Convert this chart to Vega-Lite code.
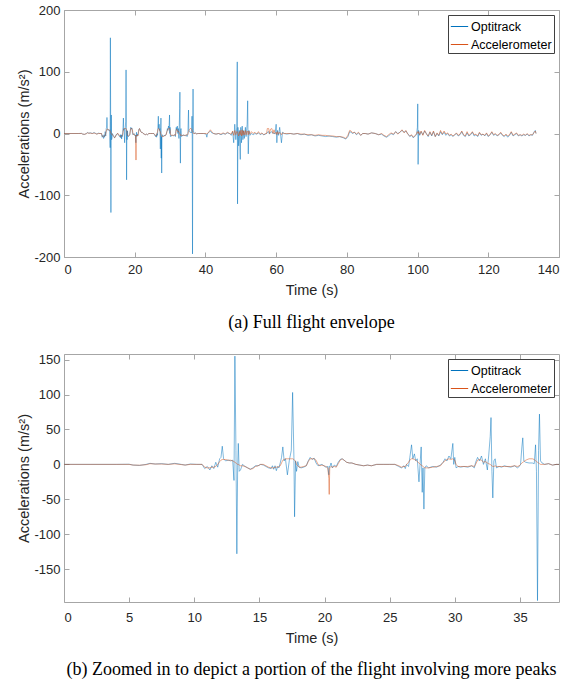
{
  "$schema": "https://vega.github.io/schema/vega-lite/v6.json",
  "padding": {"left": 16, "top": 4, "right": 5, "bottom": 5},
  "background": "white",
  "datasets": {
    "d": [
      {"t":0,"O":0,"A":0},{"t":2,"O":0,"A":0},{"t":4,"O":0,"A":0},{"t":5,"O":0.2,"A":0},{"t":5.3,"O":-1,"A":-1},{"t":5.8,"O":-1.5,"A":-1.2},{"t":6.3,"O":0,"A":-0.5},{"t":6.6,"O":1.5,"A":1},{"t":7,"O":0.5,"A":0.5},{"t":7.5,"O":1,"A":0.5},{"t":8,"O":0,"A":0},{"t":8.5,"O":1.5,"A":0.8},{"t":9,"O":0,"A":-0.3},{"t":9.3,"O":-1,"A":-1},{"t":9.7,"O":0.5,"A":0},{"t":10.2,"O":0,"A":0},{"t":10.6,"O":0,"A":0},{"t":10.8,"O":-6,"A":-4},{"t":11.0,"O":-3,"A":-5},{"t":11.2,"O":-8,"A":-5},{"t":11.35,"O":-2,"A":-4},{"t":11.5,"O":-6,"A":-4},{"t":11.65,"O":3,"A":-3},{"t":11.8,"O":-4,"A":0},{"t":11.95,"O":8,"A":4},{"t":12.05,"O":10,"A":6},{"t":12.15,"O":26,"A":7},{"t":12.25,"O":8,"A":7},{"t":12.4,"O":5,"A":7},{"t":12.6,"O":6,"A":6},{"t":12.8,"O":5,"A":6},{"t":12.95,"O":6,"A":5},{"t":13.05,"O":-23,"A":4},{"t":13.12,"O":155,"A":3},{"t":13.2,"O":20,"A":2},{"t":13.27,"O":-128,"A":1},{"t":13.33,"O":-5,"A":0},{"t":13.38,"O":30,"A":0},{"t":13.45,"O":-10,"A":-1},{"t":13.55,"O":-8,"A":-2},{"t":13.7,"O":0,"A":-2},{"t":13.9,"O":-3,"A":-3},{"t":14.1,"O":-5,"A":-5},{"t":14.3,"O":-7,"A":-7},{"t":14.5,"O":-5,"A":-6},{"t":14.7,"O":-2,"A":-3},{"t":14.9,"O":-2,"A":-2},{"t":15.1,"O":0,"A":0},{"t":15.3,"O":-1,"A":0},{"t":15.5,"O":-3,"A":-2},{"t":15.7,"O":-5,"A":-4},{"t":15.9,"O":-6,"A":-5},{"t":16.0,"O":-2,"A":-5},{"t":16.1,"O":-7,"A":-5},{"t":16.2,"O":-2,"A":-4},{"t":16.3,"O":-9,"A":-4},{"t":16.4,"O":-3,"A":-4},{"t":16.5,"O":-5,"A":-3},{"t":16.6,"O":2,"A":-2},{"t":16.7,"O":10,"A":2},{"t":16.8,"O":25,"A":6},{"t":16.9,"O":5,"A":7},{"t":17.0,"O":8,"A":8},{"t":17.15,"O":-15,"A":8},{"t":17.3,"O":6,"A":8},{"t":17.45,"O":20,"A":8},{"t":17.55,"O":103,"A":8},{"t":17.65,"O":10,"A":7},{"t":17.7,"O":-75,"A":6},{"t":17.78,"O":5,"A":4},{"t":17.85,"O":-10,"A":0},{"t":17.95,"O":4,"A":-2},{"t":18.05,"O":-4,"A":-4},{"t":18.2,"O":-5,"A":-4},{"t":18.4,"O":-4,"A":-3},{"t":18.6,"O":-2,"A":-2},{"t":18.75,"O":5,"A":4},{"t":18.9,"O":10,"A":8},{"t":19.05,"O":7,"A":8},{"t":19.2,"O":9,"A":8},{"t":19.35,"O":2,"A":6},{"t":19.5,"O":-2,"A":0},{"t":19.65,"O":-1,"A":-2},{"t":19.8,"O":0,"A":-1},{"t":19.95,"O":-2,"A":-2},{"t":20.1,"O":-4,"A":-3},{"t":20.25,"O":-3,"A":-5},{"t":20.33,"O":-15,"A":-20},{"t":20.36,"O":-3,"A":-43},{"t":20.4,"O":-4,"A":-5},{"t":20.5,"O":2,"A":-3},{"t":20.6,"O":-5,"A":-4},{"t":20.75,"O":-1,"A":-3},{"t":20.9,"O":-3,"A":-4},{"t":21.05,"O":3,"A":1},{"t":21.2,"O":7,"A":6},{"t":21.35,"O":8,"A":8},{"t":21.5,"O":6,"A":6},{"t":21.7,"O":3,"A":3},{"t":21.9,"O":2,"A":2},{"t":22.1,"O":2,"A":2},{"t":22.4,"O":0,"A":0},{"t":22.7,"O":-1,"A":-1},{"t":23.0,"O":-2,"A":-2},{"t":23.3,"O":-1,"A":-1},{"t":23.6,"O":-2,"A":-2},{"t":24.0,"O":0,"A":0},{"t":24.5,"O":0,"A":0},{"t":25.0,"O":0,"A":0},{"t":25.4,"O":0,"A":0},{"t":25.7,"O":-3,"A":-2},{"t":25.9,"O":-5,"A":-4},{"t":26.1,"O":-2,"A":-3},{"t":26.2,"O":-6,"A":-3},{"t":26.3,"O":0,"A":0},{"t":26.45,"O":-3,"A":3},{"t":26.55,"O":10,"A":6},{"t":26.68,"O":28,"A":8},{"t":26.78,"O":8,"A":8},{"t":26.9,"O":15,"A":7},{"t":27.0,"O":5,"A":6},{"t":27.12,"O":8,"A":4},{"t":27.25,"O":-25,"A":2},{"t":27.35,"O":5,"A":0},{"t":27.42,"O":25,"A":-1},{"t":27.5,"O":-40,"A":-2},{"t":27.56,"O":-5,"A":-3},{"t":27.63,"O":-64,"A":-4},{"t":27.7,"O":-5,"A":-5},{"t":27.8,"O":-2,"A":-5},{"t":28.0,"O":-5,"A":-5},{"t":28.3,"O":-3,"A":-4},{"t":28.6,"O":-4,"A":-3},{"t":28.9,"O":-1,"A":-2},{"t":29.1,"O":3,"A":3},{"t":29.25,"O":8,"A":5},{"t":29.4,"O":5,"A":7},{"t":29.55,"O":12,"A":8},{"t":29.7,"O":8,"A":7},{"t":29.85,"O":30,"A":8},{"t":29.92,"O":0,"A":7},{"t":30.0,"O":10,"A":6},{"t":30.1,"O":-5,"A":0},{"t":30.25,"O":-3,"A":-3},{"t":30.45,"O":-4,"A":-3},{"t":30.7,"O":-3,"A":-3},{"t":31.0,"O":-4,"A":-3},{"t":31.3,"O":-2,"A":-2},{"t":31.5,"O":-5,"A":-3},{"t":31.6,"O":3,"A":0},{"t":31.75,"O":10,"A":6},{"t":31.9,"O":5,"A":7},{"t":32.05,"O":12,"A":6},{"t":32.2,"O":0,"A":3},{"t":32.35,"O":8,"A":4},{"t":32.5,"O":-8,"A":2},{"t":32.6,"O":12,"A":1},{"t":32.72,"O":40,"A":0},{"t":32.78,"O":67,"A":-1},{"t":32.85,"O":-10,"A":-2},{"t":32.92,"O":-48,"A":-3},{"t":33.0,"O":5,"A":-3},{"t":33.1,"O":8,"A":-2},{"t":33.2,"O":-5,"A":-3},{"t":33.4,"O":-3,"A":-3},{"t":33.6,"O":-4,"A":-3},{"t":33.8,"O":-2,"A":-3},{"t":34.0,"O":-3,"A":-3},{"t":34.3,"O":-4,"A":-3},{"t":34.6,"O":-2,"A":-2},{"t":34.8,"O":-5,"A":-3},{"t":34.95,"O":-3,"A":-2},{"t":35.05,"O":0,"A":0},{"t":35.15,"O":25,"A":2},{"t":35.22,"O":38,"A":3},{"t":35.3,"O":5,"A":4},{"t":35.45,"O":3,"A":6},{"t":35.7,"O":2,"A":8},{"t":35.95,"O":2,"A":8},{"t":36.1,"O":1,"A":7},{"t":36.2,"O":28,"A":5},{"t":36.27,"O":-10,"A":4},{"t":36.35,"O":-195,"A":3},{"t":36.43,"O":20,"A":2},{"t":36.5,"O":72,"A":1},{"t":36.58,"O":5,"A":0},{"t":36.7,"O":2,"A":0},{"t":36.9,"O":0,"A":0},{"t":37.2,"O":1,"A":1},{"t":37.5,"O":-1,"A":-1},{"t":37.8,"O":0,"A":0},{"t":38.0,"O":0,"A":0},
      {"t":38.5,"O":0,"A":0},{"t":39.5,"O":0,"A":0},{"t":40.2,"O":-1,"A":0},{"t":40.4,"O":-6,"A":-1},{"t":40.6,"O":0,"A":0},{"t":41.0,"O":2,"A":3},{"t":41.4,"O":4,"A":6},{"t":41.8,"O":1,"A":3},{"t":42.3,"O":0,"A":0},{"t":43,"O":-1,"A":-1},{"t":43.7,"O":0,"A":0},{"t":44.4,"O":-2,"A":-1},{"t":45,"O":0,"A":1},{"t":45.6,"O":-1,"A":-1},{"t":46.2,"O":1,"A":2},{"t":46.8,"O":0,"A":0},{"t":47.3,"O":-3,"A":-1},{"t":47.7,"O":3,"A":4},{"t":48.0,"O":-15,"A":-3},{"t":48.3,"O":15,"A":5},{"t":48.6,"O":-10,"A":-2},{"t":48.85,"O":10,"A":3},{"t":49.0,"O":116,"A":3},{"t":49.08,"O":-114,"A":2},{"t":49.2,"O":10,"A":0},{"t":49.4,"O":-20,"A":-4},{"t":49.6,"O":5,"A":3},{"t":49.85,"O":-42,"A":-2},{"t":50.0,"O":10,"A":5},{"t":50.2,"O":-15,"A":-4},{"t":50.4,"O":12,"A":6},{"t":50.6,"O":-10,"A":-3},{"t":50.8,"O":5,"A":4},{"t":51.0,"O":-8,"A":-2},{"t":51.3,"O":10,"A":5},{"t":51.5,"O":-5,"A":-2},{"t":51.8,"O":15,"A":4},{"t":51.95,"O":53,"A":3},{"t":52.05,"O":-10,"A":0},{"t":52.12,"O":-33,"A":-2},{"t":52.3,"O":5,"A":4},{"t":52.6,"O":-3,"A":-1},{"t":53,"O":0,"A":3},{"t":53.5,"O":-2,"A":0},{"t":54,"O":0,"A":2},{"t":54.5,"O":-1,"A":-1},{"t":55,"O":1,"A":3},{"t":55.5,"O":-2,"A":-1},{"t":56,"O":0,"A":1},{"t":56.5,"O":-2,"A":-2},{"t":57.0,"O":-1,"A":0},{"t":57.3,"O":0,"A":0},{"t":57.5,"O":2,"A":8},{"t":57.9,"O":3,"A":8},{"t":58.1,"O":-1,"A":0},{"t":58.4,"O":2,"A":7},{"t":58.8,"O":3,"A":8},{"t":59.1,"O":0,"A":0},{"t":59.4,"O":1,"A":6},{"t":59.7,"O":-1,"A":0},{"t":60.0,"O":15,"A":2},{"t":60.2,"O":-15,"A":-2},{"t":60.4,"O":5,"A":3},{"t":60.7,"O":-3,"A":-1},{"t":61.0,"O":10,"A":2},{"t":61.3,"O":-5,"A":0},{"t":61.5,"O":-15,"A":-2},{"t":61.8,"O":2,"A":1},{"t":62.3,"O":0,"A":0},{"t":63,"O":-1,"A":0},{"t":64,"O":0,"A":0},{"t":65,"O":-1,"A":-1},{"t":66,"O":0,"A":0},{"t":67,"O":-2,"A":-1},{"t":68,"O":-1,"A":-1},{"t":69,"O":-3,"A":-2},{"t":70,"O":-2,"A":-2},{"t":71,"O":-4,"A":-3},{"t":72,"O":-3,"A":-2},{"t":73,"O":-4,"A":-3},{"t":74,"O":-5,"A":-3},{"t":75,"O":-4,"A":-4},{"t":76,"O":-5,"A":-4},{"t":77,"O":-6,"A":-5},{"t":78,"O":-5,"A":-5},{"t":79,"O":-7,"A":-6},{"t":79.7,"O":-9,"A":-8},{"t":80.3,"O":-5,"A":-3},{"t":80.8,"O":3,"A":5},{"t":81.2,"O":2,"A":4},{"t":81.6,"O":0,"A":1},{"t":82.2,"O":2,"A":2},{"t":82.7,"O":-2,"A":-1},{"t":83.3,"O":1,"A":2},{"t":83.9,"O":-3,"A":-3},{"t":84.5,"O":0,"A":0},{"t":85.2,"O":0,"A":0},{"t":86,"O":-1,"A":-1},{"t":87,"O":1,"A":1},{"t":88,"O":0,"A":0},{"t":89,"O":-2,"A":-2},{"t":89.8,"O":-1,"A":0},{"t":90.5,"O":-4,"A":-3},{"t":91.2,"O":-6,"A":-5},{"t":91.8,"O":-4,"A":-2},{"t":92.5,"O":0,"A":1},{"t":93.2,"O":-2,"A":-1},{"t":93.8,"O":3,"A":3},{"t":94.4,"O":0,"A":-1},{"t":95.0,"O":2,"A":2},{"t":95.6,"O":5,"A":6},{"t":96.2,"O":2,"A":1},{"t":96.7,"O":4,"A":5},{"t":97.2,"O":0,"A":-1},{"t":97.8,"O":-5,"A":-4},{"t":98.3,"O":-3,"A":-2},{"t":98.8,"O":-7,"A":-6},{"t":99.3,"O":-4,"A":-3},{"t":99.7,"O":-2,"A":0},{"t":99.95,"O":10,"A":3},{"t":100.05,"O":48,"A":2},{"t":100.15,"O":-50,"A":0},{"t":100.3,"O":5,"A":3},{"t":100.6,"O":-3,"A":-2},{"t":101.0,"O":3,"A":4},{"t":101.5,"O":-2,"A":-3},{"t":102.0,"O":4,"A":5},{"t":102.5,"O":0,"A":-1},{"t":103.0,"O":-5,"A":-4},{"t":103.5,"O":2,"A":3},{"t":104.0,"O":-4,"A":-3},{"t":104.5,"O":3,"A":4},{"t":105.0,"O":-5,"A":-5},{"t":105.5,"O":0,"A":1},{"t":106.0,"O":-4,"A":-3},{"t":106.5,"O":3,"A":5},{"t":107.0,"O":-2,"A":-1},{"t":107.5,"O":2,"A":4},{"t":108.0,"O":-3,"A":-1},{"t":108.5,"O":0,"A":1},{"t":109.0,"O":-4,"A":-3},{"t":109.5,"O":-2,"A":-1},{"t":110.0,"O":-5,"A":-4},{"t":110.5,"O":-2,"A":-2},{"t":111.0,"O":0,"A":1},{"t":111.5,"O":-4,"A":-3},{"t":112.0,"O":-2,"A":-1},{"t":112.5,"O":3,"A":4},{"t":113.0,"O":-3,"A":-2},{"t":113.5,"O":-5,"A":-4},{"t":114.0,"O":1,"A":3},{"t":114.5,"O":-4,"A":-3},{"t":115.0,"O":-2,"A":-1},{"t":115.5,"O":2,"A":3},{"t":116.0,"O":-4,"A":-2},{"t":116.5,"O":-2,"A":-1},{"t":117.0,"O":-5,"A":-4},{"t":117.5,"O":1,"A":2},{"t":118.0,"O":-3,"A":-2},{"t":118.5,"O":-1,"A":-1},{"t":119.0,"O":-4,"A":-3},{"t":119.5,"O":0,"A":1},{"t":120.0,"O":-5,"A":-4},{"t":120.5,"O":-2,"A":-2},{"t":121.0,"O":2,"A":3},{"t":121.5,"O":-3,"A":-2},{"t":122.0,"O":-1,"A":0},{"t":122.5,"O":-4,"A":-3},{"t":123.0,"O":-2,"A":-2},{"t":123.5,"O":1,"A":2},{"t":124.0,"O":-3,"A":-2},{"t":124.5,"O":-5,"A":-4},{"t":125.0,"O":-2,"A":-1},{"t":125.5,"O":-6,"A":-4},{"t":126.0,"O":-3,"A":-2},{"t":126.5,"O":2,"A":3},{"t":127.0,"O":-4,"A":-3},{"t":127.5,"O":-2,"A":-1},{"t":128.0,"O":0,"A":1},{"t":128.5,"O":-4,"A":-3},{"t":129.0,"O":-2,"A":-2},{"t":129.5,"O":-4,"A":-3},{"t":130.0,"O":-2,"A":-1},{"t":130.5,"O":-3,"A":-3},{"t":131.0,"O":-1,"A":0},{"t":131.5,"O":-4,"A":-3},{"t":132.0,"O":-2,"A":-2},{"t":132.5,"O":-3,"A":-2},{"t":133.0,"O":3,"A":2},{"t":133.3,"O":5,"A":4},{"t":133.5,"O":0,"A":0}
    ]
  },
  "config": {
    "view": {"stroke": null},
    "axis": {
      "labelFont": "Liberation Sans", "labelFontSize": 13, "labelColor": "#262626",
      "labelExpr": "'' + datum.value",
      "titleFont": "Liberation Sans", "titleFontSize": 14.5, "titleFontWeight": "normal", "titleColor": "#262626",
      "domainColor": "#a6a6a6", "tickColor": "#a6a6a6", "tickSize": -5, "labelPadding": 9,
      "grid": false, "domainWidth": 1
    },
    "legend": {
      "orient": "top-right", "offset": 5, "strokeColor": "#404040", "fillColor": "white",
      "padding": 2, "symbolType": "stroke", "symbolSize": 300, "symbolStrokeWidth": 1,
      "labelFont": "Liberation Sans", "labelFontSize": 12.5, "labelColor": "#000000",
      "rowPadding": 2, "labelOffset": 2, "title": null
    },
    "title": {"font": "Liberation Serif", "fontSize": 18, "fontWeight": "normal", "color": "#000000"}
  },
  "resolve": {"legend": {"color": "independent"}, "scale": {"color": "independent"}},
  "spacing": 21,
  "vconcat": [
    {
      "width": 495, "height": 247,
      "title": {"text": "(a) Full flight envelope", "orient": "bottom", "anchor": "middle", "offset": 17},
      "data": {"name": "d"},
      "layer": [
        {
          "mark": {"type": "line", "strokeWidth": 0.5, "clip": true},
          "encoding": {
            "x": {"field": "t", "type": "quantitative", "scale": {"domain": [0, 140], "nice": false},
                  "axis": {"orient": "bottom", "values": [0, 20, 40, 60, 80, 100, 120, 140], "title": "Time (s)", "titlePadding": 7, "labelPadding": 11}},
            "y": {"field": "O", "type": "quantitative", "scale": {"domain": [-200, 200], "nice": false},
                  "axis": {"orient": "left", "values": [-200, -100, 0, 100, 200], "title": "Accelerations (m/s²)", "titlePadding": 2}},
            "color": {"datum": "Optitrack", "type": "nominal", "scale": {"domain": ["Optitrack", "Accelerometer"], "range": ["#0072BD", "#D95319"]}}
          }
        },
        {
          "mark": {"type": "line", "strokeWidth": 0.5, "clip": true},
          "encoding": {
            "x": {"field": "t", "type": "quantitative",
                  "axis": {"orient": "top", "values": [0, 20, 40, 60, 80, 100, 120, 140], "labels": false, "title": null}},
            "y": {"field": "A", "type": "quantitative",
                  "axis": {"orient": "right", "values": [-200, -100, 0, 100, 200], "labels": false, "title": null}},
            "color": {"datum": "Accelerometer", "type": "nominal"}
          }
        }
      ],
      "resolve": {"axis": {"x": "independent", "y": "independent"}}
    },
    {
      "width": 495, "height": 248,
      "title": {"text": "(b) Zoomed in to depict a portion of the flight involving more peaks", "orient": "bottom", "anchor": "middle", "offset": 16},
      "data": {"name": "d"},
      "layer": [
        {
          "mark": {"type": "line", "strokeWidth": 0.5, "clip": true},
          "encoding": {
            "x": {"field": "t", "type": "quantitative", "scale": {"domain": [0, 38], "nice": false},
                  "axis": {"orient": "bottom", "values": [0, 5, 10, 15, 20, 25, 30, 35], "title": "Time (s)", "titlePadding": 7, "labelPadding": 14}},
            "y": {"field": "O", "type": "quantitative", "scale": {"domain": [-197, 158], "nice": false},
                  "axis": {"orient": "left", "values": [-150, -100, -50, 0, 50, 100, 150], "title": "Accelerations (m/s²)", "titlePadding": 2}},
            "color": {"datum": "Optitrack", "type": "nominal", "scale": {"domain": ["Optitrack", "Accelerometer"], "range": ["#0072BD", "#D95319"]}}
          }
        },
        {
          "mark": {"type": "line", "strokeWidth": 0.5, "clip": true},
          "encoding": {
            "x": {"field": "t", "type": "quantitative",
                  "axis": {"orient": "top", "values": [0, 5, 10, 15, 20, 25, 30, 35], "labels": false, "title": null}},
            "y": {"field": "A", "type": "quantitative",
                  "axis": {"orient": "right", "values": [-150, -100, -50, 0, 50, 100, 150], "labels": false, "title": null}},
            "color": {"datum": "Accelerometer", "type": "nominal"}
          }
        }
      ],
      "resolve": {"axis": {"x": "independent", "y": "independent"}}
    }
  ]
}
